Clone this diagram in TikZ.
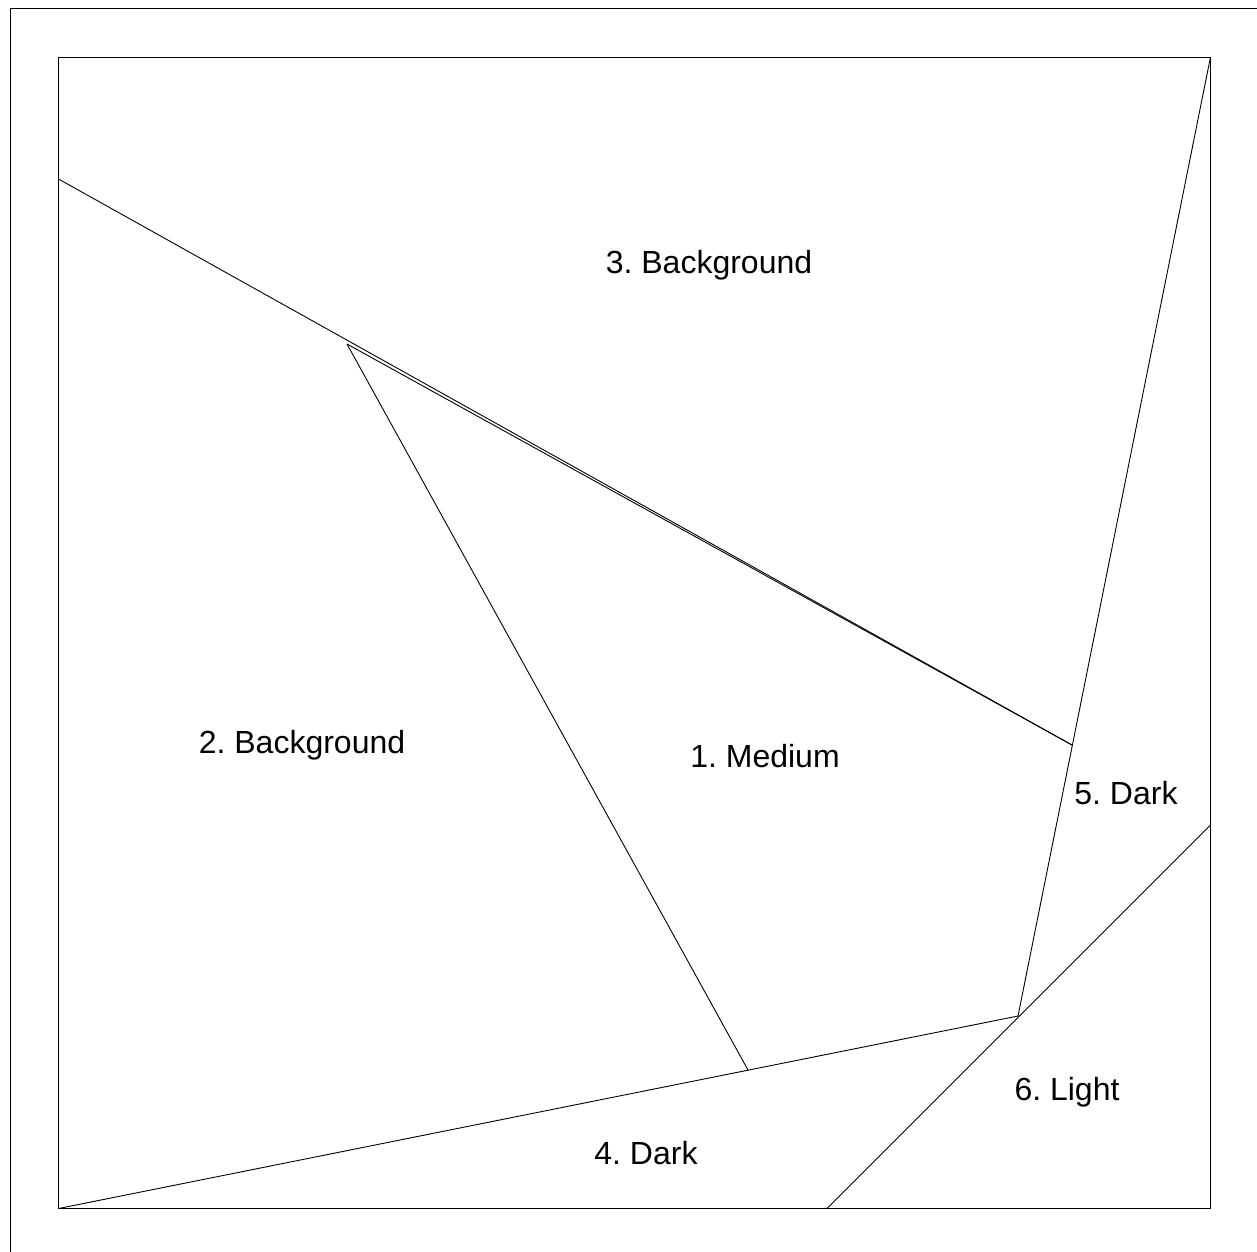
\documentclass[tikz,border=0pt]{standalone}
\usepackage{fontspec}
\setmainfont{Liberation Sans}
\frenchspacing
\begin{document}
\begin{tikzpicture}[x=1pt,y=-1pt,
  edge/.style={draw=black,line width=0.9pt},
  lbl/.style={font=\fontsize{32}{38}\selectfont,inner sep=0pt}]
\useasboundingbox (0,0) rectangle (1257,1251);
\clip (0,0) rectangle (1257,1251);
\fill[white] (0,0) rectangle (1257,1251);
% outer frame
\draw[edge,line width=1pt] (10.5,8.5) rectangle (1275,1270);
% inner frame
\coordinate (TL) at (58.5,57);
\coordinate (TR) at (1210.5,57);
\coordinate (BR) at (1210.5,1208.5);
\coordinate (BL) at (58.5,1208.5);
\draw[edge] (TL) -- (TR) -- (BR) -- (BL) -- cycle;
% key points
\coordinate (L1) at (58.5,179);
\coordinate (V) at (347,344);
\coordinate (P) at (1072,745);
\coordinate (Q) at (1018,1016);
\coordinate (R) at (748,1070);
\coordinate (D1) at (827,1208.5);
\coordinate (D2) at (1210.5,825);
% lines
\draw[edge] (L1) -- (P);
\draw[edge] (V) -- (P);
\draw[edge] (TR) -- (Q);
\draw[edge] (V) -- (R);
\draw[edge] (BL) -- (Q);
\draw[edge] (D1) -- (D2);
% labels
\node[lbl] (n3) at (709,265) {3. Background};
\node[lbl] (n2) at (302,745) {2. Background};
\node[lbl] (n1) at (765,756) {1. Medium};
\node[lbl] (n5) at (1126,793) {5. Dark};
\node[lbl] (n6) at (1067,1092) {6. Light};
\node[lbl] (n4) at (646,1153) {4. Dark};
\end{tikzpicture}
\end{document}
